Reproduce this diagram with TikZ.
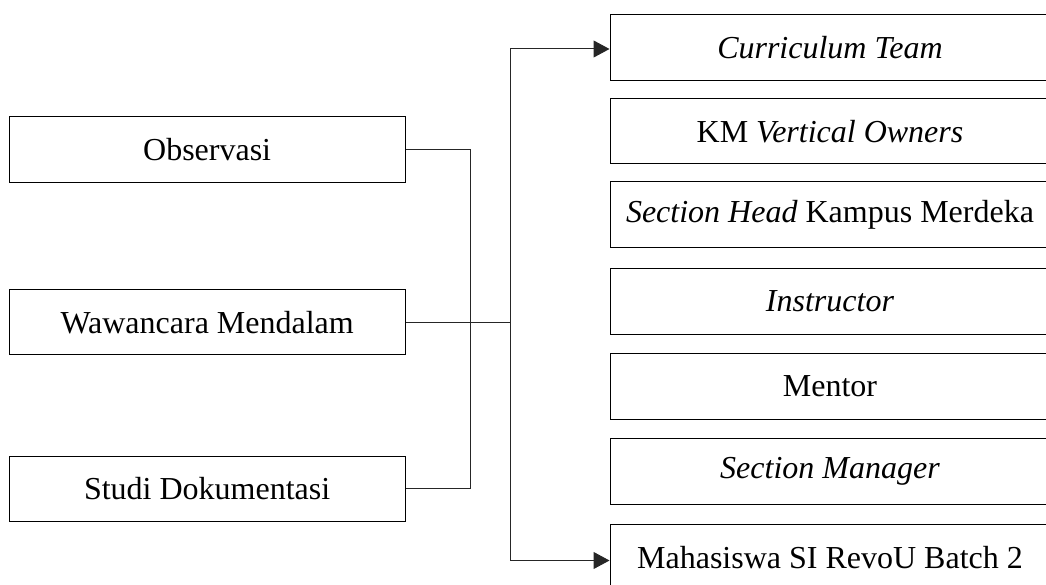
\documentclass[tikz,border=0pt]{standalone}
\usepackage{fontspec}
\setmainfont{Liberation Serif}
\usetikzlibrary{arrows.meta}
\begin{document}
\begin{tikzpicture}[x=1pt,y=-1pt,
  lbox/.style={draw=black,line width=1pt,minimum width=395.7pt,minimum height=65.3pt,inner sep=0pt,font=\fontsize{32}{38}\selectfont},
  rbox/.style={draw=black,line width=1pt,minimum width=440pt,minimum height=65.5pt,inner sep=0pt,font=\fontsize{32}{38}\selectfont},
  conn/.style={line width=1pt,draw=black!85},
  arr/.style={conn,-{Triangle[length=16pt,width=17pt]}}]
\useasboundingbox (0,0) rectangle (1046,585);
\clip (0,0) rectangle (1046,585);
% left boxes
\node[lbox] (obs) at (207.15,149.6) {Observasi};
\node[lbox] (waw) at (207.15,322.3) {Wawancara Mendalam};
\node[lbox] (stu) at (207.15,488.7) {Studi Dokumentasi};
% right boxes
\node[rbox] (cur) at (830,47.7) {\textit{Curriculum Team}};
\node[rbox] (km)  at (830,131.2) {KM \textit{Vertical Owners}};
\node[rbox] (sh)  at (830,214.5) {\textit{Section Head} Kampus Merdeka};
\node[rbox] (ins) at (830,301.7) {\textit{Instructor}};
\node[rbox] (men) at (830,386.5) {Mentor};
\node[rbox] (sm)  at (830,471.5) {\textit{Section Manager}};
\node[rbox] (mah) at (830,557.5) {Mahasiswa SI RevoU Batch 2};
% connectors
\coordinate (bx) at (470,0);
\coordinate (vtop) at (510,49);
\coordinate (vbot) at (510,560.5);
\draw[conn] (obs.east) -- (obs.east -| bx) -- (stu.east -| bx) -- (stu.east);
\draw[conn] (waw.east) -- (waw.east -| vtop);
\draw[conn] (vtop) -- (vbot);
\draw[arr] (vtop) -- (cur.west |- vtop);
\draw[arr] (vbot) -- (mah.west |- vbot);
\end{tikzpicture}
\end{document}
